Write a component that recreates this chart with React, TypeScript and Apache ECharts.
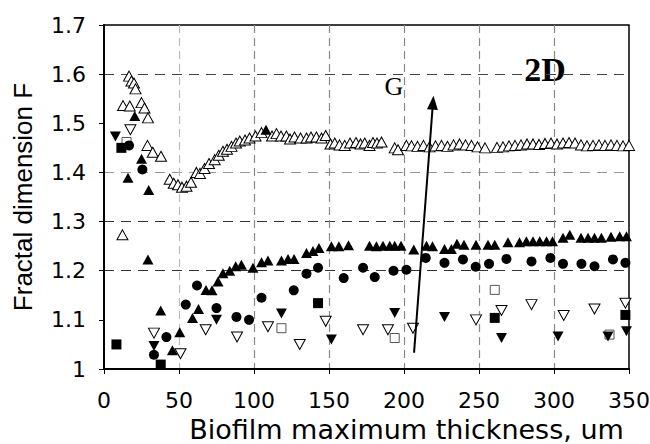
import React, { useEffect, useRef } from "react";
import * as echarts from "echarts";

// ---- data (x = biofilm maximum thickness, um ; y = fractal dimension F) ----
const openTriangles: number[][] = [
  [12.3, 1.273],
  [12.7, 1.536], [16.7, 1.596], [17.2, 1.535], [18.3, 1.586], [20, 1.582], [21, 1.57],
  [25, 1.542], [27, 1.531], [29.3, 1.511], [29, 1.455], [32.5, 1.441], [38, 1.433],
  [43.8, 1.386], [46.5, 1.378], [49.3, 1.375], [52, 1.37], [55, 1.372], [58, 1.38],
  [61.6, 1.4], [64, 1.398], [67, 1.408], [70, 1.418], [73.8, 1.426], [76.5, 1.435],
  [79.3, 1.443], [82, 1.447], [85, 1.453], [88, 1.46], [90.5, 1.464], [94, 1.466],
  [97, 1.47], [101, 1.474], [105, 1.481], [112, 1.474], [115, 1.479], [118, 1.474],
  [121.6, 1.474], [124, 1.468], [127, 1.472], [131, 1.47], [135, 1.47], [138, 1.472],
  [141.6, 1.472], [145, 1.47], [147.8, 1.475], [151, 1.458], [153.8, 1.46], [157, 1.456],
  [160.5, 1.455], [164, 1.46], [168, 1.461], [171, 1.458], [173.8, 1.46], [177, 1.455],
  [179.3, 1.461], [182, 1.46], [185, 1.462], [193.8, 1.45], [196, 1.446], [201.6, 1.455],
  [205, 1.454], [209, 1.453], [213, 1.455], [217, 1.452], [221, 1.454], [225, 1.455],
  [229, 1.453], [233, 1.456], [237, 1.458], [241, 1.456], [245, 1.455], [249, 1.452],
  [254, 1.45], [262, 1.451], [266, 1.452], [270, 1.454], [274, 1.455], [278, 1.456],
  [282, 1.458], [286, 1.458], [290, 1.457], [294, 1.459], [298, 1.46], [302, 1.458],
  [306, 1.46], [310, 1.461], [314, 1.46], [318, 1.456], [322, 1.454], [326, 1.455],
  [330, 1.456], [334, 1.455], [338, 1.456], [342, 1.455], [346, 1.454], [350, 1.455],
];

const filledTriangles: number[][] = [
  [16, 1.389], [20.5, 1.515], [25, 1.428], [29.8, 1.364], [29.3, 1.223], [37.8, 1.119],
  [45.6, 1.038], [50.5, 1.075], [59, 1.104], [63, 1.122], [68, 1.161], [72, 1.16],
  [76, 1.178], [79.3, 1.195], [83.8, 1.2], [87.8, 1.209], [91.6, 1.212], [99.3, 1.206],
  [105, 1.217], [108, 1.487], [109.3, 1.221], [118.3, 1.221], [122.7, 1.224], [126.7, 1.224],
  [135, 1.236], [139.3, 1.24], [143.3, 1.246], [151.6, 1.25], [156.6, 1.25], [163, 1.252],
  [177, 1.251], [181.6, 1.25], [186, 1.251], [190.5, 1.251], [193.8, 1.251], [198, 1.251],
  [206.5, 1.243], [215, 1.251], [219, 1.25], [227, 1.244], [231.6, 1.244], [235.3, 1.255],
  [240, 1.253], [248, 1.253], [256, 1.253], [260.5, 1.253], [269.3, 1.258], [277, 1.258],
  [281.6, 1.26], [286, 1.26], [290.5, 1.26], [295, 1.26], [299, 1.26], [306, 1.267],
  [310.5, 1.273], [318, 1.267], [322.7, 1.267], [327, 1.267], [331.6, 1.267], [338, 1.269],
  [343.8, 1.27], [348.3, 1.27],
];

const filledCircles: number[][] = [
  [16.7, 1.455], [25.6, 1.406], [33.3, 1.029], [41.6, 1.065], [54.5, 1.131], [62, 1.17],
  [75, 1.124], [88.3, 1.106], [96.7, 1.1], [105, 1.145], [126.5, 1.16], [135, 1.194],
  [142.7, 1.206], [159.8, 1.185], [172.7, 1.206], [180.5, 1.187], [193, 1.2], [201.6, 1.202],
  [214.5, 1.226], [227, 1.216], [239.3, 1.223], [247.8, 1.208], [256.7, 1.214], [268.3, 1.224],
  [285, 1.219], [297.6, 1.226], [306, 1.214], [318.3, 1.214], [327, 1.209], [339.3, 1.223],
  [347.6, 1.216],
];

const filledInvTriangles: number[][] = [
  [7.6, 1.473], [33.3, 1.047], [75, 1.1], [118.3, 1.113], [151.6, 1.06], [193.8, 1.114],
  [227, 1.106], [265, 1.063], [302.7, 1.066], [336, 1.066], [348.3, 1.077],
];

const openInvTriangles: number[][] = [
  [17.6, 1.487], [33.3, 1.073], [51, 1.031], [67.8, 1.08], [88.7, 1.065], [109.3, 1.086],
  [130.5, 1.05], [147.8, 1.097], [172.7, 1.08], [189.3, 1.08], [206, 1.083], [248, 1.1],
  [265, 1.119], [285, 1.131], [306.5, 1.109], [327, 1.122], [347.6, 1.134],
];

const filledSquares: number[][] = [
  [8.3, 1.05], [11.6, 1.45], [37.8, 1.009], [142.7, 1.134], [260.5, 1.104], [347.6, 1.11],
];

const openSquares: number[][] = [
  [15, 1.462], [118.3, 1.083], [193.8, 1.063], [260.5, 1.161], [337, 1.07],
];

const arrowStart = [206.7, 1.033];
const arrowEnd = [219.3, 1.542];

const xTitle = "Biofilm maximum thickness, um";
const yTitle = "Fractal dimension F";
const arrowLabel = "G";
const panelLabel = "2D";

export default function App() {
  const ref = useRef<HTMLDivElement>(null);

  useEffect(() => {
    document.body.style.margin = "0";
    const chart = echarts.init(ref.current!, null, { renderer: "svg" });
    const font = "'DejaVu Sans', sans-serif";
    const serif = "'Liberation Serif', 'Times New Roman', serif";
    const openStyle = { color: "#fff", borderColor: "#000", borderWidth: 1, opacity: 1 };
    const filledStyle = { color: "#000", opacity: 1 };

    chart.setOption({
      animation: false,
      backgroundColor: "#fff",
      grid: {
        left: 104,
        right: 21,
        top: 25,
        bottom: 75,
        show: true,
        borderColor: "#000",
        borderWidth: 1.5,
        backgroundColor: "transparent",
        outerBoundsMode: "none",
      },
      xAxis: {
        type: "value",
        min: 0,
        max: 350,
        interval: 50,
        name: xTitle,
        nameLocation: "middle",
        nameGap: 47,
        nameTextStyle: {
          fontFamily: font,
          fontSize: 27,
          color: "#000",
          padding: [0, 0, 0, 80],
        },
        axisLine: { lineStyle: { color: "#000", width: 2 } },
        axisTick: { show: true, inside: false, length: 5, lineStyle: { color: "#000" } },
        axisLabel: { fontFamily: font, fontSize: 22, color: "#000", margin: 20 },
        splitLine: {
          show: true,
          lineStyle: {
            type: [8, 5],
            width: 1.2,
            color: ["transparent", "#bbb", "#888", "#888", "#888", "#888", "#888", "transparent"],
          },
        },
      },
      yAxis: {
        type: "value",
        min: 1,
        max: 1.7,
        interval: 0.1,
        name: yTitle,
        nameLocation: "middle",
        nameGap: 68,
        nameTextStyle: { fontFamily: "'Liberation Sans', Arial, sans-serif", fontSize: 26, color: "#000" },
        axisLine: { lineStyle: { color: "#000", width: 2 } },
        axisTick: { show: true, inside: false, length: 5, lineStyle: { color: "#000" } },
        axisLabel: {
          fontFamily: font,
          fontSize: 22,
          color: "#000",
          margin: 18,
          padding: [0, 0, 7, 0],
          formatter: (v: number) => String(+v.toFixed(1)),
        },
        splitLine: {
          show: true,
          lineStyle: {
            type: [10, 7],
            width: 1.2,
            color: ["transparent", "transparent", "#333", "#333", "#999", "transparent", "#444", "transparent"],
          },
        },
      },
      series: [
        {
          type: "scatter",
          name: "open triangles",
          data: openTriangles,
          symbol: "triangle",
          symbolSize: [11, 10],
          itemStyle: openStyle,
          z: 3,
        },
        {
          type: "scatter",
          name: "filled triangles",
          data: filledTriangles,
          symbol: "triangle",
          symbolSize: [11, 10],
          itemStyle: filledStyle,
          z: 4,
        },
        {
          type: "scatter",
          name: "filled circles",
          data: filledCircles,
          symbol: "circle",
          symbolSize: 10,
          itemStyle: filledStyle,
          z: 4,
        },
        {
          type: "scatter",
          name: "filled inverted triangles",
          data: filledInvTriangles,
          symbol: "triangle",
          symbolRotate: 180,
          symbolSize: [11, 10],
          itemStyle: filledStyle,
          z: 4,
        },
        {
          type: "scatter",
          name: "open inverted triangles",
          data: openInvTriangles,
          symbol: "triangle",
          symbolRotate: 180,
          symbolSize: [11, 10],
          itemStyle: openStyle,
          z: 3,
        },
        {
          type: "scatter",
          name: "filled squares",
          data: filledSquares,
          symbol: "rect",
          symbolSize: 10,
          itemStyle: filledStyle,
          z: 4,
        },
        {
          type: "scatter",
          name: "open squares",
          data: openSquares,
          symbol: "rect",
          symbolSize: 9,
          itemStyle: { color: "#fff", borderColor: "#555", borderWidth: 1, opacity: 1 },
          z: 3,
          markLine: {
            silent: true,
            symbol: ["none", "triangle"],
            symbolSize: [11, 14],
            label: { show: false },
            lineStyle: { color: "#000", width: 2, type: "solid", opacity: 1 },
            data: [[{ coord: arrowStart }, { coord: arrowEnd }]],
          },
        },
      ],
      graphic: [
        {
          type: "text",
          x: 394,
          y: 86,
          style: {
            text: arrowLabel,
            fontFamily: serif,
            fontSize: 26,
            fill: "#000",
            align: "center",
            verticalAlign: "middle",
          },
        },
        {
          type: "text",
          x: 545,
          y: 69,
          style: {
            text: panelLabel,
            fontFamily: serif,
            fontSize: 34,
            fontWeight: "bold",
            fill: "#000",
            align: "center",
            verticalAlign: "middle",
          },
        },
      ],
    });
    return () => chart.dispose();
  }, []);

  return <div ref={ref} style={{ width: 650, height: 444 }} />;
}
